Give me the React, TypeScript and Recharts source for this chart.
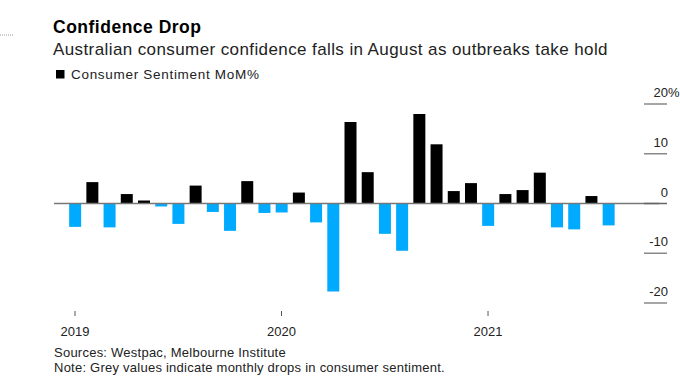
import React from "react";
import { BarChart, Bar, XAxis, YAxis, Cell, ReferenceLine } from "recharts";

const months = [
  "2019-01", "2019-02", "2019-03", "2019-04", "2019-05", "2019-06",
  "2019-07", "2019-08", "2019-09", "2019-10", "2019-11", "2019-12",
  "2020-01", "2020-02", "2020-03", "2020-04", "2020-05", "2020-06",
  "2020-07", "2020-08", "2020-09", "2020-10", "2020-11", "2020-12",
  "2021-01", "2021-02", "2021-03", "2021-04", "2021-05", "2021-06",
  "2021-07", "2021-08",
];

const sentimentMoM = [
  -4.7, 4.3, -4.8, 1.9, 0.6, -0.6, -4.1, 3.6, -1.7, -5.5, 4.5, -1.9,
  -1.8, 2.2, -3.8, -17.7, 16.4, 6.3, -6.1, -9.5, 18.0, 11.9, 2.5, 4.1,
  -4.5, 1.9, 2.7, 6.2, -4.8, -5.2, 1.5, -4.4,
];

const yTicks = [-20, -10, 0, 10, 20];
const yearTicks = ["2019-01", "2020-01", "2021-01"];

const data = months.map((m, i) => ({ month: m, value: sentimentMoM[i] }));

const FONT = "'Liberation Sans', Arial, Helvetica, sans-serif";
const UP = "#000000";
const DOWN = "#00aaff";

function YearTick(props: any) {
  const { x, y, payload } = props;
  if (!yearTicks.includes(payload.value)) return <g />;
  return (
    <g>
      <line x1={x} x2={x} y1={y} y2={y + 5} stroke="#555" strokeWidth={1} />
      <text x={x} y={y + 25} textAnchor="middle" fontSize={13} fill="#222" fontFamily={FONT}>
        {payload.value.slice(0, 4)}
      </text>
    </g>
  );
}

function ValueTick(props: any) {
  const { x, y, payload } = props;
  const v = payload.value;
  return (
    <g>
      <line x1={x - 23} x2={x} y1={y} y2={y} stroke={v === 0 ? "#666" : "#888"} strokeWidth={1.5} />
      <text x={x + 1} y={y - 7} textAnchor="end" fontSize={13} fill="#222" fontFamily={FONT}>
        {v}
      </text>
      {v === 20 && (
        <text x={x + 1} y={y - 7} textAnchor="start" fontSize={13} fill="#222" fontFamily={FONT}>
          %
        </text>
      )}
    </g>
  );
}

export default function App() {
  return (
    <div style={{ position: "absolute", left: 0, top: 0, width: 680, height: 384, background: "#fff" }}>
      <svg width={680} height={384} style={{ position: "absolute", left: 0, top: 0 }}>
        <line x1={0} x2={14} y1={35} y2={35} stroke="#999" strokeDasharray="1 1" />
        <text x={53} y={33} fontSize={17.5} fontWeight="bold" fill="#000" fontFamily={FONT} letterSpacing={0.5}>
          Confidence Drop
        </text>
        <text x={53} y={55} fontSize={17} fill="#222" fontFamily={FONT} letterSpacing={0.4}>
          Australian consumer confidence falls in August as outbreaks take hold
        </text>
        <rect x={56} y={70} width={8.5} height={8.5} fill="#000" />
        <text x={71} y={78.5} fontSize={13.5} fill="#222" fontFamily={FONT} letterSpacing={0.7}>
          Consumer Sentiment MoM%
        </text>
        <text x={54} y={357} fontSize={13} fill="#222" fontFamily={FONT} letterSpacing={0.24}>
          Sources: Westpac, Melbourne Institute
        </text>
        <text x={54} y={372} fontSize={13} fill="#222" fontFamily={FONT} letterSpacing={0.24}>
          Note: Grey values indicate monthly drops in consumer sentiment.
        </text>
      </svg>
      <div style={{ position: "absolute", left: 0, top: 0 }}>
        <BarChart
          width={680}
          height={384}
          data={data}
          margin={{ top: 104, right: 0, bottom: 51, left: 54 }}
          barCategoryGap="16%"
        >
          <XAxis
            dataKey="month"
            interval={0}
            tick={<YearTick />}
            tickLine={false}
            axisLine={false}
            height={30}
            padding={{ left: 12.4, right: 41.9 }}
          />
          <YAxis
            orientation="right"
            domain={[-20, 20]}
            ticks={yTicks}
            width={21}
            tick={<ValueTick />}
            tickLine={false}
            axisLine={false}
          />
          <ReferenceLine y={0} stroke="#777" strokeWidth={1.5} />
          <Bar dataKey="value" isAnimationActive={false}>
            {data.map((d, i) => (
              <Cell key={`c-${i}`} fill={d.value >= 0 ? UP : DOWN} />
            ))}
          </Bar>
        </BarChart>
      </div>
    </div>
  );
}
